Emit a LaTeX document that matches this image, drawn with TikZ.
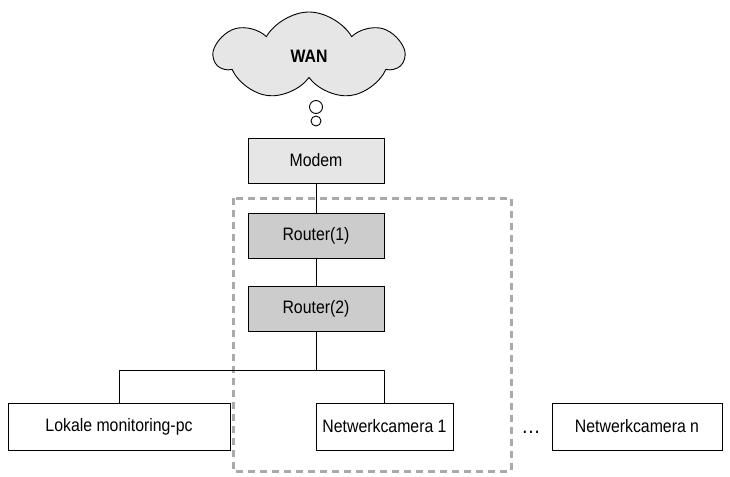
\documentclass[tikz,border=0pt]{standalone}
\usepackage{fontspec}
\setmainfont[FakeStretch=0.88]{Liberation Sans}
\usetikzlibrary{shapes.symbols}
\definecolor{boxlight}{HTML}{E6E6E6}
\definecolor{boxdark}{HTML}{CCCCCC}
\definecolor{zonegray}{HTML}{AAAAAA}
\tikzset{
  netbox/.style={draw, line width=0.9pt, minimum height=45pt, inner sep=0pt, font=\fontsize{18}{20}\selectfont},
  wire/.style={line width=0.9pt},
}
\begin{document}
\begin{tikzpicture}[x=1pt, y=-1pt]
\useasboundingbox (0,0) rectangle (730,476);
{
\node (wan) [cloud, cloud puffs=7, cloud puff arc=120, aspect=2.2, draw, line width=0.9pt, fill=boxlight,
  minimum width=188pt, minimum height=88pt, font=\fontsize{18}{20}\selectfont\bfseries] at (309,56) {WAN};
\node (bub1) [circle, draw, line width=0.9pt, fill=white, minimum size=13pt, inner sep=0pt] at (316,107) {};
\node (bub2) [circle, draw, line width=0.9pt, fill=white, minimum size=10pt, inner sep=0pt] at (316,121) {};

\node (modem) [netbox, fill=boxlight, minimum width=136pt] at (316,160.5) {Modem};
\node (r1) [netbox, fill=boxdark, minimum width=136pt] at (316,236) {Router(1)};
\node (r2) [netbox, fill=boxdark, minimum width=136pt] at (316,309) {Router(2)};

\node (pc) [netbox, minimum width=222pt, minimum height=47pt] at (119,426.5) {Lokale monitoring-pc};
\node (cam1) [netbox, minimum width=137pt, minimum height=47pt] at (384.5,426.5) {Netwerkcamera 1};
\node (camn) [netbox, minimum width=170pt, minimum height=47pt] at (637,426.5) {Netwerkcamera n};
\node (dots) [font=\fontsize{22}{24}\selectfont] at (531,432) {\dots};

\coordinate (split) at (316,370);
\coordinate (leftend) at (pc |- split);
\coordinate (rightend) at (cam1 |- split);
}

% local network zone
\draw[zonegray, line width=3pt, dash pattern=on 7pt off 5pt] (233,198) rectangle (511,471);

\path[wire] (modem) edge (r1);
\path[wire] (r1) edge (r2);
\draw[wire] (r2.south) -- (split);
\draw[wire] (pc.north) -- (leftend) -- (rightend) -- (cam1.north);
\end{tikzpicture}
\end{document}
